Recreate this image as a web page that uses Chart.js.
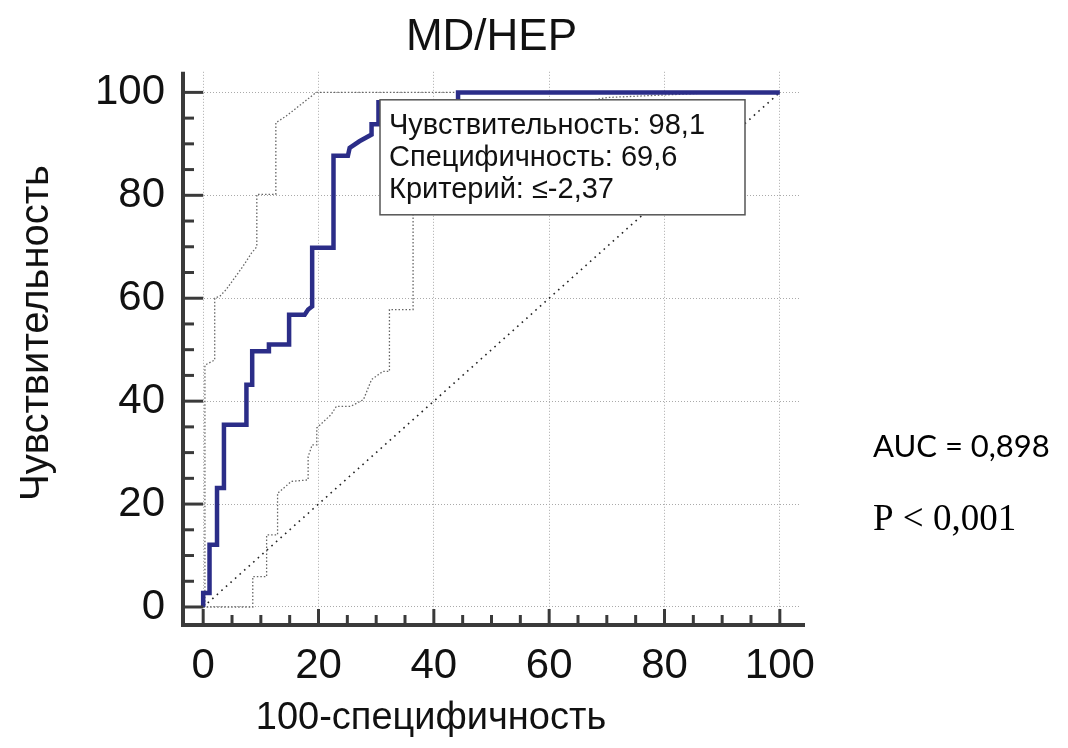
<!DOCTYPE html>
<html>
<head>
<meta charset="utf-8">
<script src="https://cdn.jsdelivr.net/npm/chart.js@4.4.1/dist/chart.umd.min.js"></script>
<style>
    html, body { margin: 0; padding: 0; background: #fff; }
    #wrap { width: 1068px; height: 748px; }
</style>
</head>
<body>
<div id="wrap"><canvas id="roc" width="1068" height="748"></canvas></div>
<script>
// ROC curve MD/HEP: x = 100-specificity, y = sensitivity (%)
const rocX = [0, 0, 1.1, 1.1, 2.4, 2.4, 3.6, 3.6, 7.5, 7.5, 8.5, 8.5, 11.4, 11.4, 14.9, 14.9, 17.6, 18.2, 18.9, 18.9, 22.6, 22.6, 25.1, 25.4, 27.1, 29.2, 29.2, 30.4, 30.4, 44.2, 44.2, 100];
const rocY = [0, 2.7, 2.7, 12.1, 12.1, 23.1, 23.1, 35.4, 35.4, 43.2, 43.2, 49.7, 49.7, 51.0, 51.0, 56.8, 56.8, 57.8, 58.4, 69.8, 69.8, 87.7, 87.7, 89.2, 90.5, 91.8, 93.8, 93.8, 98.1, 98.1, 100, 100];

// 95% confidence bounds
const upperX = [0, 0.3, 0.3, 2.0, 2.0, 2.9, 4.0, 6.9, 8.4, 9.3, 9.3, 12.6, 12.6, 14.4, 19.6, 100];
const upperY = [0, 0, 47.0, 48.0, 60.0, 60.4, 61.7, 66.2, 68.8, 70.0, 80.2, 80.2, 94.1, 95.4, 100, 100];
const lowerX = [0, 8.6, 8.6, 11.0, 11.0, 12.9, 12.9, 15.3, 18.2, 18.2, 18.9, 19.7, 19.7, 22.2, 23.1, 25.6, 27.8, 29.2, 31.2, 32.3, 32.3, 36.4, 36.4, 50, 70, 90, 100];
const lowerY = [0, 0, 5.9, 5.9, 14.0, 14.0, 22.1, 24.4, 24.7, 29.2, 31.5, 31.5, 34.8, 37.4, 39.0, 39.0, 40.3, 44.2, 45.8, 45.8, 57.8, 57.8, 85, 95, 99, 100, 100];

// reference diagonal
const diagX = [0, 100];
const diagY = [0, 100];

const xTicks = [0, 20, 40, 60, 80, 100];
const yTicks = [0, 20, 40, 60, 80, 100];
const minorTicks = [0, 5, 10, 15, 20, 25, 30, 35, 40, 45, 50, 55, 60, 65, 70, 75, 80, 85, 90, 95, 100];

const chartTitle = 'MD/HEP';
const xTitle = '100-специфичность';
const yTitle = 'Чувствительность';
const criterionLines = ['Чувствительность: 98,1', 'Специфичность: 69,6', 'Критерий: ≤-2,37'];
const aucText = 'AUC = 0,898';
const pText = 'P < 0,001';

const SANS = '"Liberation Sans", Arial, sans-serif';

function toPoints(xs, ys) {
    return xs.map((x, i) => ({ x, y: ys[i] }));
}

// axis lines with inner ticks, axis titles, criterion box, side notes
const rocDecor = {
    id: 'rocDecor',
    afterDatasetsDraw(chart) {
        const ctx = chart.ctx;
        const { left, right, top, bottom } = chart.chartArea;
        const xs = chart.scales.x, ys = chart.scales.y;
        const x0 = xs.getPixelForValue(0);

        ctx.save();
        // criterion box
        const bx = left + 197, by = top + 28, bw = 365, bh = 115;
        ctx.fillStyle = '#fff';
        ctx.fillRect(bx, by, bw, bh);
        ctx.strokeStyle = '#555';
        ctx.lineWidth = 1.5;
        ctx.strokeRect(bx, by, bw, bh);
        ctx.fillStyle = '#111';
        ctx.font = '29px ' + SANS;
        ctx.textBaseline = 'middle';
        ctx.textAlign = 'left';
        criterionLines.forEach((t, i) => ctx.fillText(t, bx + 9, by + 26 + i * 32));

        // axes
        ctx.strokeStyle = '#3a3a3a';
        ctx.lineWidth = 4;
        ctx.beginPath();
        ctx.moveTo(left, top);
        ctx.lineTo(left, bottom);
        ctx.lineTo(right + 5, bottom);
        ctx.stroke();

        ctx.lineWidth = 3;
        minorTicks.forEach(v => {
            const major = xTicks.includes(v);
            const px = xs.getPixelForValue(v);
            ctx.beginPath();
            ctx.moveTo(px, bottom);
            ctx.lineTo(px, bottom - (major ? 16 : 10));
            ctx.stroke();
            const py = ys.getPixelForValue(v);
            ctx.beginPath();
            ctx.moveTo(left, py);
            ctx.lineTo(major ? x0 : left + 11, py);
            ctx.stroke();
        });

        // axis titles
        ctx.fillStyle = '#111';
        ctx.font = '38px ' + SANS;
        ctx.textAlign = 'center';
        ctx.textBaseline = 'middle';
        ctx.fillText(xTitle, 431, 719);
        ctx.font = '40px ' + SANS;
        ctx.translate(37, 333);
        ctx.rotate(-Math.PI / 2);
        ctx.fillText(yTitle, 0, 0);
        ctx.restore();
    },
    afterDraw(chart) {
        const ctx = chart.ctx;
        ctx.save();
        ctx.fillStyle = '#000';
        ctx.textAlign = 'left';
        ctx.textBaseline = 'middle';
        ctx.font = '31px Lato, "Open Sans", sans-serif';
        ctx.fillText(aucText, 873, 447);
        ctx.font = '37px "Liberation Serif", "Times New Roman", serif';
        ctx.fillText(pText, 873, 520);
        ctx.restore();
    }
};

const ctx = document.getElementById('roc').getContext('2d');
new Chart(ctx, {
    type: 'scatter',
    data: {
        datasets: [
            {
                label: 'ROC',
                data: toPoints(rocX, rocY),
                showLine: true,
                borderColor: '#2b2d88',
                borderWidth: 4.5,
                pointRadius: 0,
                tension: 0
            },
            {
                label: 'upper',
                data: toPoints(upperX, upperY),
                showLine: true,
                borderColor: '#666',
                borderWidth: 1.3,
                borderDash: [1.5, 2],
                pointRadius: 0,
                tension: 0
            },
            {
                label: 'lower',
                data: toPoints(lowerX, lowerY),
                showLine: true,
                borderColor: '#666',
                borderWidth: 1.3,
                borderDash: [1.5, 2],
                pointRadius: 0,
                tension: 0
            },
            {
                label: 'diagonal',
                data: toPoints(diagX, diagY),
                showLine: true,
                borderColor: '#222',
                borderWidth: 1.6,
                borderDash: [1.6, 4.5],
                pointRadius: 0,
                tension: 0
            }
        ]
    },
    options: {
        responsive: false,
        animation: false,
        devicePixelRatio: 1,
        layout: { padding: { left: 0, right: 268, top: 0, bottom: 0 } },
        plugins: {
            legend: { display: false },
            tooltip: { enabled: false },
            title: {
                display: true,
                text: chartTitle,
                fullSize: false,
                color: '#111',
                font: { family: SANS, size: 44, weight: 'normal', lineHeight: 1.2 },
                padding: { top: 11, bottom: 8 }
            }
        },
        scales: {
            x: {
                type: 'linear',
                min: -3.5,
                max: 103.5,
                afterBuildTicks: s => { s.ticks = xTicks.map(v => ({ value: v })); },
                afterFit: s => { s.height = 123; },
                grid: { color: '#aaa', lineWidth: 1, drawTicks: false },
                border: { display: false, dash: [1, 2] },
                ticks: {
                    color: '#111',
                    font: { family: SANS, size: 42 },
                    padding: 16,
                    maxRotation: 0,
                    autoSkip: false
                }
            },
            y: {
                type: 'linear',
                min: -3.5,
                max: 104,
                afterBuildTicks: s => { s.ticks = yTicks.map(v => ({ value: v })); },
                afterFit: s => { s.width = 183; },
                grid: { color: '#aaa', lineWidth: 1, drawTicks: false },
                border: { display: false, dash: [1, 2] },
                ticks: {
                    color: '#111',
                    font: { family: SANS, size: 42 },
                    padding: 18,
                    autoSkip: false
                }
            }
        }
    },
    plugins: [rocDecor]
});
</script>
</body>
</html>
